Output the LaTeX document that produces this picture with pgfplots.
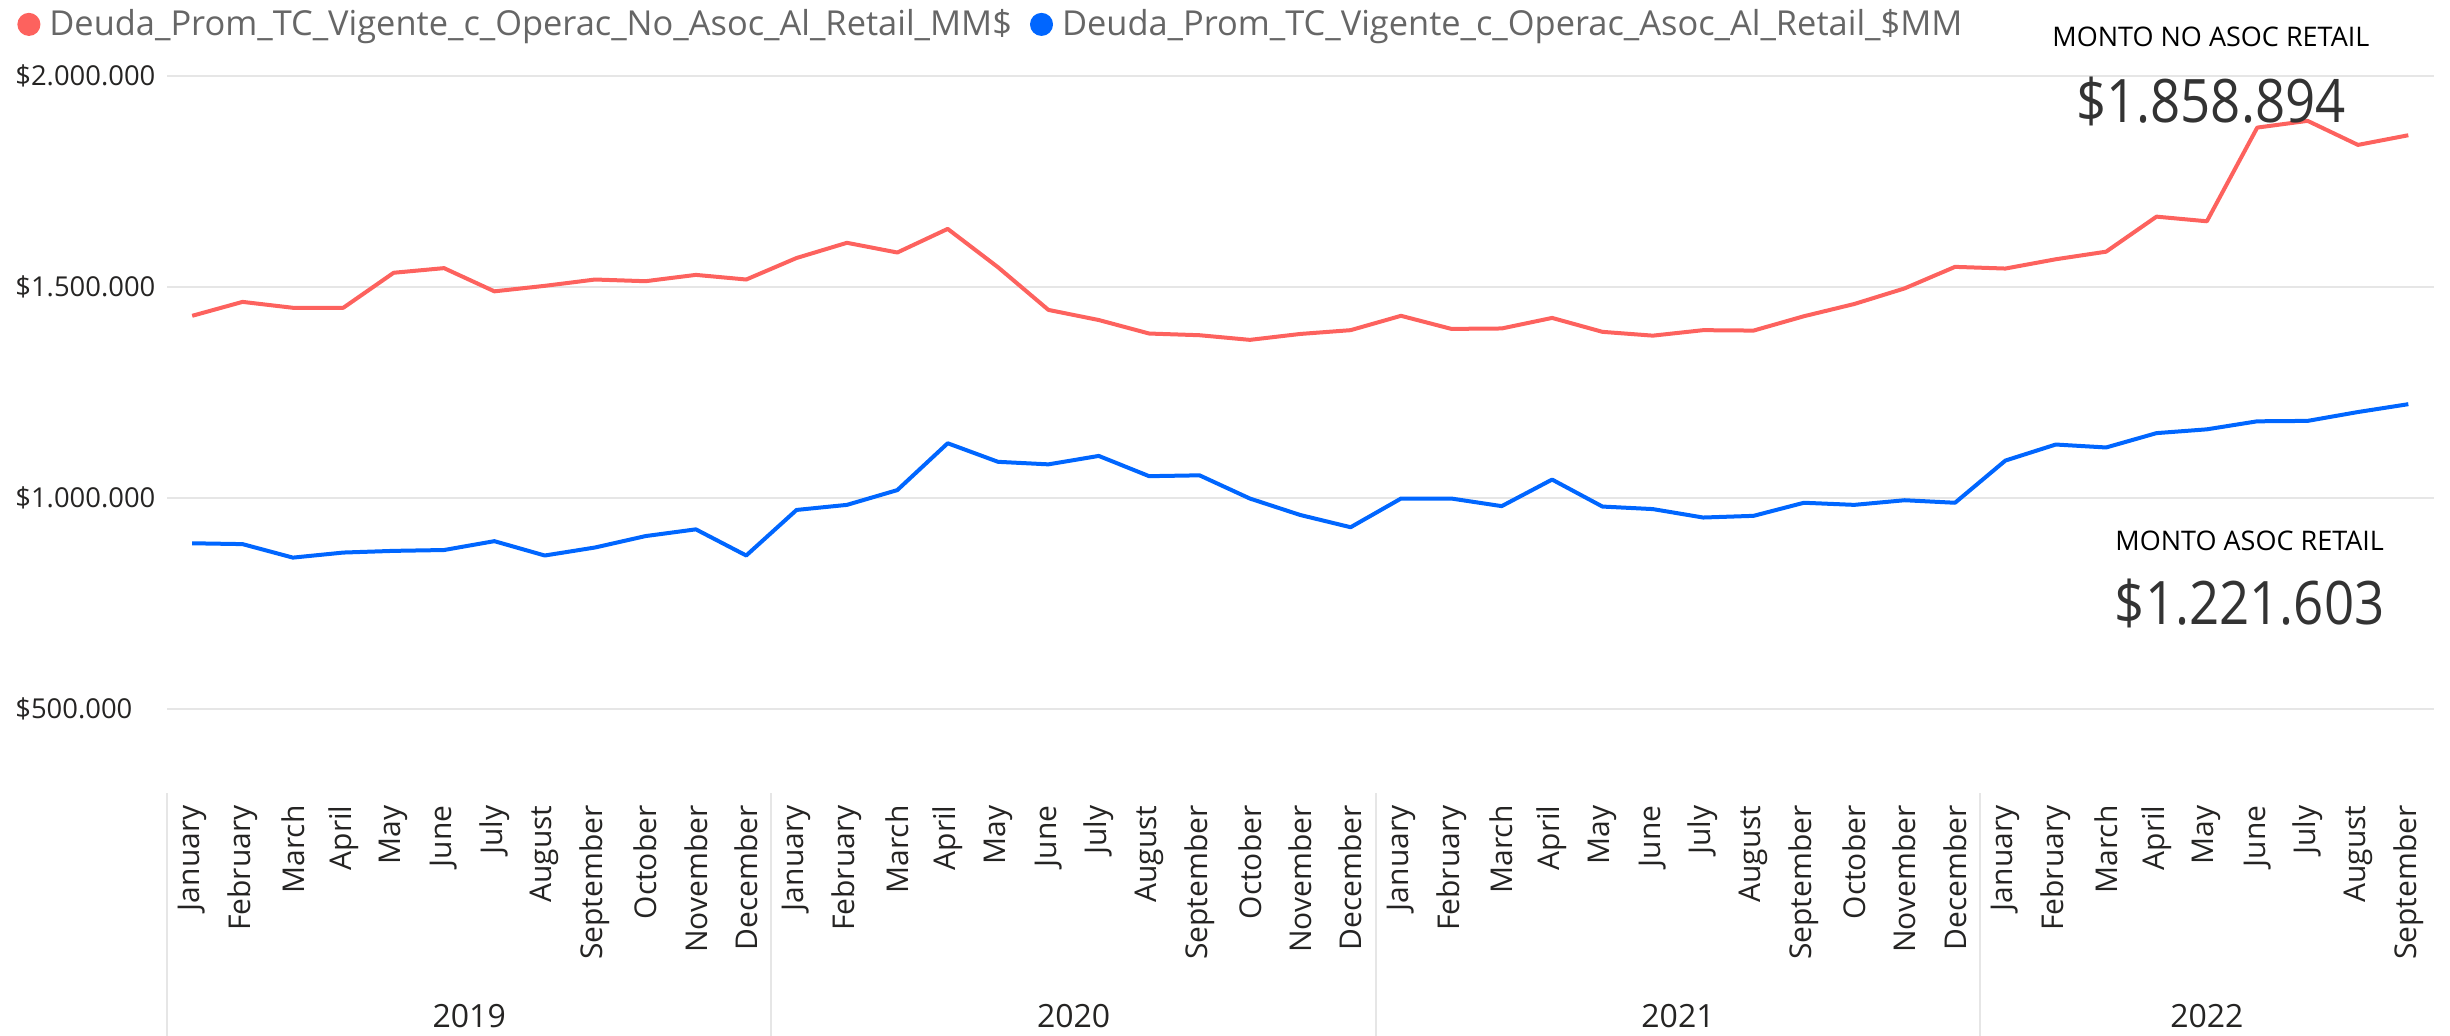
\documentclass[border=0pt]{standalone}
\usepackage{fontspec}
\setmainfont{Open Sans}
\newfontfamily\cardfont[FakeStretch=0.88]{Open Sans}
\usepackage{pgfplots}
\usepackage{pgfplotstable}
\pgfplotsset{compat=1.18}

\definecolor{noasoc}{RGB}{253,98,94}
\definecolor{asoc}{RGB}{0,102,255}
\definecolor{gridgray}{RGB}{230,230,230}
\definecolor{legendgray}{RGB}{102,102,102}
\definecolor{cardgray}{RGB}{51,51,51}
\definecolor{labelblack}{RGB}{37,36,35}

% monthly averages, Jan 2019 (0) .. Sep 2022 (44)
\pgfplotstableread{
idx red blue
0 1431000 892000
1 1464000 890000
2 1450000 858000
3 1450000 870000
4 1533000 874000
5 1544000 876000
6 1489000 897000
7 1502000 863000
8 1517000 882000
9 1513000 909000
10 1528000 925000
11 1517000 863000
12 1568000 971000
13 1604000 983000
14 1581000 1018000
15 1637000 1129000
16 1546000 1085000
17 1445000 1079000
18 1421000 1099000
19 1389000 1051000
20 1385000 1053000
21 1374000 998000
22 1388000 959000
23 1397000 930000
24 1431000 998000
25 1400000 998000
26 1401000 980000
27 1426000 1043000
28 1393000 979000
29 1384000 973000
30 1397000 953000
31 1396000 957000
32 1430000 988000
33 1459000 983000
34 1496000 994000
35 1547000 988000
36 1543000 1088000
37 1565000 1126000
38 1583000 1119000
39 1666000 1153000
40 1655000 1162000
41 1877000 1181000
42 1893000 1182000
43 1836000 1203000
44 1858894 1221603
}\deuda

\begin{document}
\begin{tikzpicture}
\useasboundingbox (0,0) rectangle (1225bp,518bp);
\begin{axis}[
    at={(83.5bp,121.45bp)}, anchor=south west,
    scale only axis, width=1133.3bp, height=369.25bp,
    xmin=-0.5, xmax=44.5, ymin=300000, ymax=2050000,
    axis line style={draw=none},
    tick style={draw=none},
    scaled y ticks=false,
    xtick={0,...,44},
    xticklabels={January,February,March,April,May,June,July,August,September,October,November,December,
                 January,February,March,April,May,June,July,August,September,October,November,December,
                 January,February,March,April,May,June,July,August,September,October,November,December,
                 January,February,March,April,May,June,July,August,September},
    xticklabel style={rotate=90, anchor=east, inner sep=6bp, text=labelblack,
                      font=\fontsize{15bp}{18bp}\selectfont},
    ytick={500000,1000000,1500000,2000000},
    yticklabels={\$500.000,\$1.000.000,\$1.500.000,\$2.000.000},
    yticklabel style={anchor=west, inner sep=0pt, xshift=-76bp, text=labelblack,
                      font=\fontsize{13.7bp}{16bp}\selectfont},
    ymajorgrids,
    grid style={gridgray, line width=1bp},
    clip=false,
    legend columns=2,
    legend style={at={(-0.06618,1.0409)}, anchor=west, draw=none, fill=none,
                  font=\fontsize{17.2bp}{20bp}\selectfont, text=legendgray,
                  inner sep=0pt, nodes={inner sep=0pt},
                  /tikz/every odd column/.append style={column sep=4.5bp},
                  /tikz/every even column/.append style={column sep=9bp}},
    legend image code/.code={\fill[#1] (4.75bp,0bp) circle (4.75bp);},
]
\addplot[noasoc, line width=2bp, line join=round] table[x=idx, y=red] {\deuda};
\addplot[asoc, line width=2bp, line join=round] table[x=idx, y=blue] {\deuda};
\legend{Deuda\_Prom\_TC\_Vigente\_c\_Operac\_No\_Asoc\_Al\_Retail\_MM\$,
        Deuda\_Prom\_TC\_Vigente\_c\_Operac\_Asoc\_Al\_Retail\_\$MM}

% year separators and year labels
\pgfplotsinvokeforeach{-0.5,11.5,23.5,35.5}{
  \draw[gridgray, line width=1bp] (axis cs:#1,300000) -- (axis cs:#1,-275600);
}
\node[font=\fontsize{16bp}{19bp}\selectfont, text=labelblack] at (axis cs:5.5,-228200) {2019};
\node[font=\fontsize{16bp}{19bp}\selectfont, text=labelblack] at (axis cs:17.5,-228200) {2020};
\node[font=\fontsize{16bp}{19bp}\selectfont, text=labelblack] at (axis cs:29.5,-228200) {2021};
\node[font=\fontsize{16bp}{19bp}\selectfont, text=labelblack] at (axis cs:40,-228200) {2022};

% cards
\node[font=\fontsize{13.5bp}{16bp}\selectfont, text=black] at (axis cs:40.08,2091700) {MONTO NO ASOC RETAIL};
\node[font=\cardfont\fontsize{30bp}{34bp}\selectfont, text=cardgray] at (axis cs:40.08,1940000) {\$1.858.894};
\node[font=\fontsize{13.5bp}{16bp}\selectfont, text=black] at (axis cs:40.85,897400) {MONTO ASOC RETAIL};
\node[font=\cardfont\fontsize{30bp}{34bp}\selectfont, text=cardgray] at (axis cs:40.85,750500) {\$1.221.603};
\end{axis}
\end{tikzpicture}
\end{document}
